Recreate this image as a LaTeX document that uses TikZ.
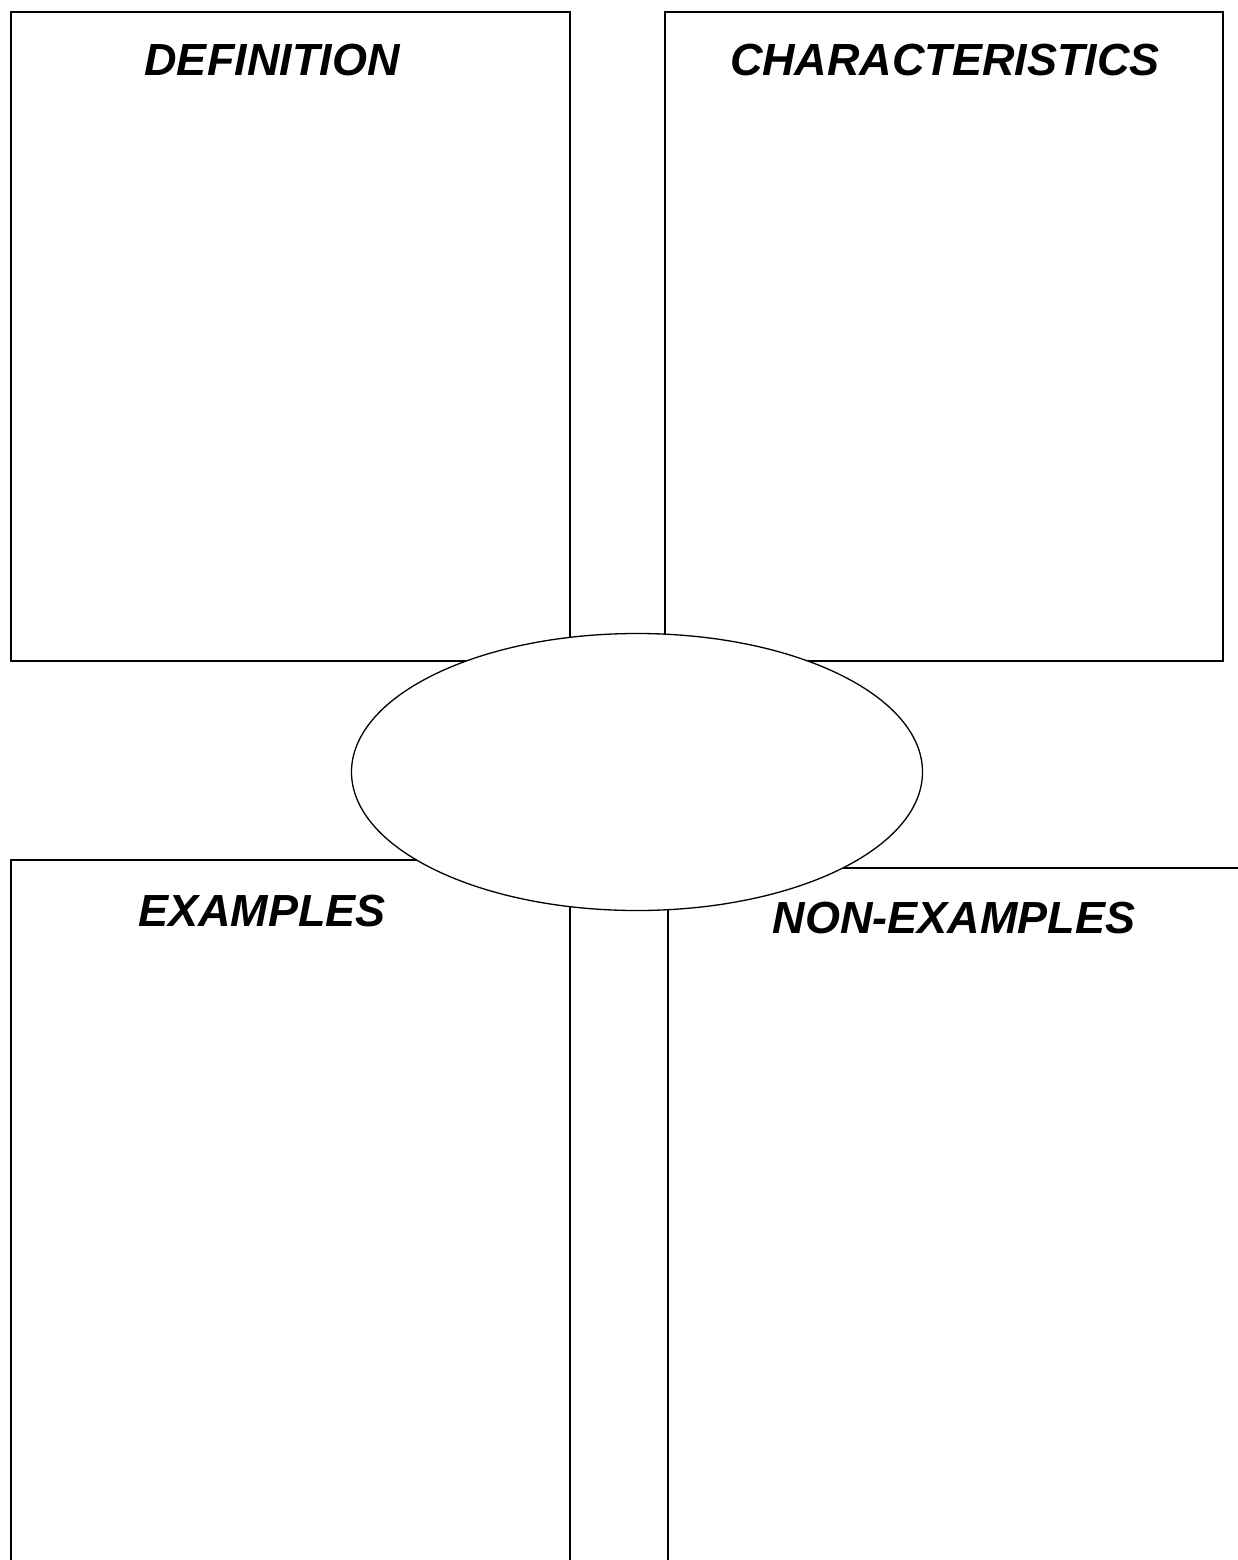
\documentclass[tikz,border=0pt]{standalone}
\usepackage{fontspec}
\setmainfont{Liberation Sans}
\usetikzlibrary{shapes.geometric}
\begin{document}
\begin{tikzpicture}[x=1pt,y=-1pt,
  boxline/.style={draw=black,line width=1.8pt},
  title/.style={font=\fontsize{45}{50}\selectfont\bfseries\itshape,inner sep=0pt,anchor=center},
  oval/.style={ellipse,draw=black,line width=1.3pt,fill=white,inner sep=0pt,minimum width=571pt,minimum height=277pt}]
\useasboundingbox (0,0) rectangle (1238,1560);
\clip (0,0) rectangle (1238,1560);
\fill[white] (0,0) rectangle (1238,1560);
% boxes
\draw[boxline] (11,12) rectangle (570,661);
\draw[boxline] (665,12) rectangle (1223,661);
\draw[boxline] (11,1580) -- (11,860) -- (570,860) -- (570,1580);
\draw[boxline] (668,1580) -- (668,868) -- (1260,868);
% titles
\node[title] (def) at (272,60) {DEFINITION};
\node[title] (char) at (945,60) {CHARACTERISTICS};
\node[title] (ex) at (262,911) {EXAMPLES};
\node[title] (nonex) at (954,918) {NON-EXAMPLES};
% center oval
\node[oval] (center) at (637,772) {};
\end{tikzpicture}
\end{document}
